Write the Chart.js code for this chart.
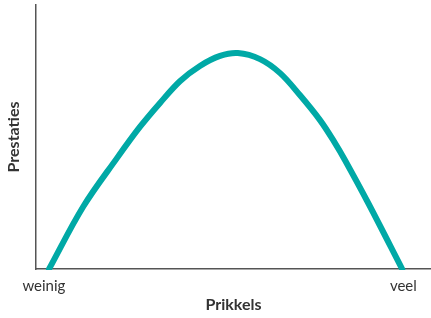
<!DOCTYPE html>
<html>
<head>
<meta charset="utf-8">
<script src="https://cdn.jsdelivr.net/npm/chart.js@4"></script>
<style>
  html, body { margin: 0; padding: 0; background: #fff; }
  #wrap { width: 431px; height: 318px; }
</style>
</head>
<body>
<div id="wrap"><canvas id="curve"></canvas></div>
<script>
// Prikkels (x) tegen Prestaties (y), omgekeerde U
const prikkels   = [3.3, 11.9, 20.5, 26.3, 31.4, 36.5, 41.5, 46.6, 51.1, 56.7, 61.8, 66.8, 71.9, 75.7, 78.2, 84.1, 92.7];
const prestaties = [0, 23.5, 42.0, 53.8, 62.9, 71.2, 76.9, 80.7, 81.8, 79.5, 74.2, 65.9, 56.4, 47.7, 41.3, 25.0, 0];

const tickPos = [2, 93];
const tickLabels = ["weinig", "veel"];

const points = prikkels.map((x, i) => ({ x: x, y: prestaties[i] }));
const textColor = "#333";
const axisColor = "#555";

new Chart(document.getElementById("curve").getContext("2d"), {
  type: "line",
  data: {
    datasets: [{
      data: points,
      borderColor: "#00a9a6",
      borderWidth: 6,
      borderCapStyle: "round",
      borderJoinStyle: "round",
      pointRadius: 0,
      tension: 0.35,
      clip: 1,
    }],
  },
  options: {
    responsive: true,
    maintainAspectRatio: false,
    animation: false,
    layout: { padding: { top: 5, right: 0, left: 0, bottom: 0 } },
    plugins: { legend: { display: false }, tooltip: { enabled: false } },
    scales: {
      x: {
        type: "linear",
        min: 0,
        max: 100,
        grid: { display: false, drawTicks: false },
        border: { display: true, color: axisColor, width: 1.5 },
        afterBuildTicks: (scale) => { scale.ticks = tickPos.map(v => ({ value: v })); },
        ticks: {
          autoSkip: false,
          maxRotation: 0,
          padding: 8,
          color: textColor,
          font: { family: "Lato", size: 15 },
          callback: (v) => tickLabels[tickPos.indexOf(v)],
        },
        title: {
          display: true,
          text: "Prikkels",
          color: textColor,
          font: { family: "Lato", size: 16, weight: "bold" },
        },
        afterFit: (scale) => { scale.height = 49; },
      },
      y: {
        min: 0,
        max: 100,
        grid: { display: false, drawTicks: false },
        border: { display: true, color: axisColor, width: 1.5 },
        ticks: { display: false },
        title: {
          display: true,
          text: "Prestaties",
          color: textColor,
          font: { family: "Lato", size: 16, weight: "bold" },
        },
        afterFit: (scale) => { scale.width = 36; },
      },
    },
  },
});
</script>
</body>
</html>
